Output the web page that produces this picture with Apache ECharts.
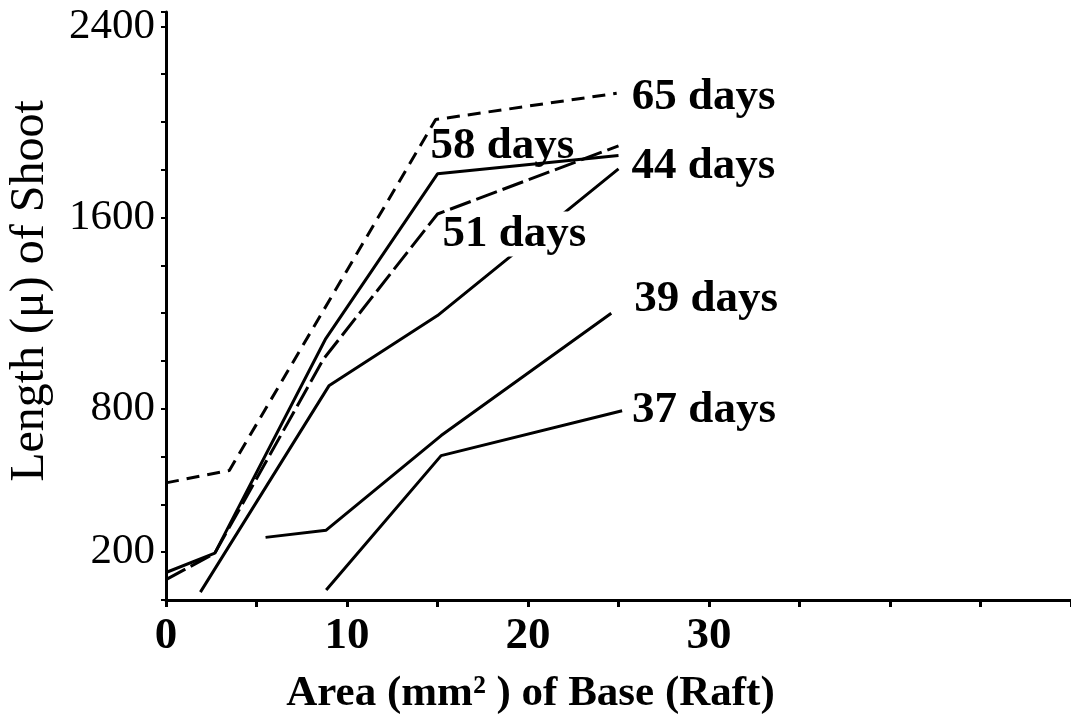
<!DOCTYPE html>
<html><head><meta charset="utf-8">
<script src="https://cdn.jsdelivr.net/npm/echarts@6/dist/echarts.min.js"></script>
<style>html,body{margin:0;padding:0;background:#fff}#c{width:1071px;height:717px}</style>
</head><body><div id="c"></div>
<script>
// Tick labels shown
const xTickLabels = [0, 10, 20, 30];
const yTickLabels = [200, 800, 1600, 2400];
// Series: [area mm², length µ]
const d65 = [[0,490],[3.5,542],[14.9,2010],[24.9,2120]];
const d58 = [[0,115],[2.7,196],[8.8,1090],[15,1783],[25,1860]];
const d51 = [[0,85],[2.7,196],[8.7,1008],[15,1615],[25,1900]];
const d44 = [[1.9,33],[9,896],[15,1190],[25,1804]];
const d39 = [[5.5,262],[8.85,292],[15.2,688],[24.6,1200]];
const d37 = [[8.85,42],[15.2,604],[25.2,792]];
const names = ['65 days','58 days','51 days','44 days','39 days','37 days'];

const FONT = '"Liberation Serif", "DejaVu Serif", serif';

function mk(name, data, dash, labelIdx, off, z) {
  return {
    name: name, type: 'line', data: data, showSymbol: false, z: z || 2,
    lineStyle: { color: '#000', width: 3, type: dash },
    markPoint: {
      symbol: 'circle', symbolSize: 0, silent: true,
      data: [{ coord: data[labelIdx] }],
      label: {
        show: true, position: 'inside', align: 'left', verticalAlign: 'middle',
        offset: off, formatter: name, color: '#000',
        fontFamily: FONT, fontWeight: 'bold', fontSize: 45,
        backgroundColor: name === '51 days' ? '#fff' : 'transparent',
        padding: [0, 2, 0, 2]
      }
    }
  };
}

const chart = echarts.init(document.getElementById('c'));
chart.setOption({
  animation: false,
  backgroundColor: '#fff',
  grid: { left: 166, right: 0, top: 12, bottom: 117, containLabel: false, outerBoundsMode: 'none' },
  xAxis: {
    type: 'value', min: 0, max: 50, interval: 5,
    name: 'Area (mm² ) of Base (Raft)', nameLocation: 'middle', nameGap: 72,
    nameTextStyle: { fontFamily: FONT, fontWeight: 'bold', fontSize: 43, color: '#000', padding: [0, 176, 0, 0] },
    axisLine: { lineStyle: { color: '#000', width: 3 } },
    axisTick: { length: 7, lineStyle: { color: '#000', width: 3 } },
    splitLine: { show: false },
    axisLabel: {
      margin: 14, color: '#000', fontFamily: FONT, fontWeight: 'bold', fontSize: 45,
      formatter: v => xTickLabels.includes(v) ? String(v) : ''
    }
  },
  yAxis: {
    type: 'value', min: 0, max: 2460, interval: 200,
    name: 'Length (μ) of Shoot', nameLocation: 'middle', nameGap: 112,
    nameTextStyle: { fontFamily: FONT, fontSize: 48, color: '#000', padding: [0, 0, 0, 30] },
    axisLine: { lineStyle: { color: '#000', width: 3 } },
    axisTick: { length: 5, lineStyle: { color: '#000', width: 2 } },
    splitLine: { show: false },
    axisLabel: {
      margin: 11, color: '#000', fontFamily: FONT, fontSize: 43,
      formatter: v => yTickLabels.includes(v) ? String(v) : ''
    }
  },
  series: [
    mk(names[0], d65, [13, 8], 3, [13, 4]),
    mk(names[1], d58, 'solid', 3, [-9, -27]),
    mk(names[2], d51, [22, 6], 3, [3, 20], 5),
    mk(names[3], d44, 'solid', 3, [11, -2]),
    mk(names[4], d39, 'solid', 3, [21, -14]),
    mk(names[5], d37, 'solid', 2, [8, 0])
  ]
});
</script></body></html>
